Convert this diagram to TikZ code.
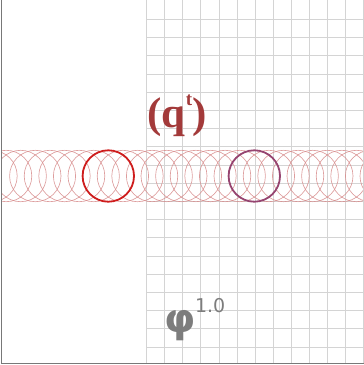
\documentclass[tikz,border=0pt]{standalone}
\usepackage{fontspec}
\setmainfont{Liberation Serif}
\newfontfamily\phifont{DejaVu Sans}
\usetikzlibrary{positioning}
\definecolor{gridc}{RGB}{212,212,212}
\definecolor{framec}{RGB}{120,120,120}
\definecolor{ghostc}{RGB}{215,140,140}
\definecolor{qc}{RGB}{163,58,58}
\definecolor{redc}{RGB}{206,28,28}
\definecolor{purc}{RGB}{150,68,112}
\definecolor{phic}{RGB}{125,125,125}
\tikzset{gridline/.style={gridc,line width=.7pt},
 ghost/.style={ghostc,line width=.65pt,opacity=.85},
 ring/.style={line width=1.8pt},
 lbl/.style={inner sep=0pt,outer sep=0pt}}
\begin{document}
\begin{tikzpicture}[x=1pt,y=-1pt]
\useasboundingbox (0,0) rectangle (364,365);
% deformed grid (right half)
\foreach \i in {0,...,12}\draw[gridline] (146.5+18.1*\i,0)--(146.5+18.1*\i,364);
\foreach \j in {0,...,18}\draw[gridline] (146.5,19.3+18.2*\j)--(364,19.3+18.2*\j);
% trail of positions
\begin{scope}
\clip (1,1) rectangle (363,364);
\foreach \k in {-8,...,19}\draw[ghost] (108.3+14.6*\k,176) circle (25.7);
\end{scope}
\draw[ring,redc] (108.3,176) circle (25.7);
\draw[ring,purc] (254.3,176) circle (25.7);
% labels
\node[lbl,qc,anchor=base,font=\fontsize{43}{43}\selectfont\bfseries] (qt) at (177,127)
 {(q\raisebox{.5em}{\fontsize{19}{19}\selectfont t})};
\node[lbl,phic,anchor=base,font=\fontsize{40}{40}\phifont\bfseries] (phi) at (180,332) {φ};
\node[lbl,phic,anchor=base west,font=\fontsize{19}{19}\phifont] (pw) at (195,312) {1.0};
\draw[framec,line width=1pt] (1,0)--(1,363.5)--(364,363.5);
\end{tikzpicture}
\end{document}
